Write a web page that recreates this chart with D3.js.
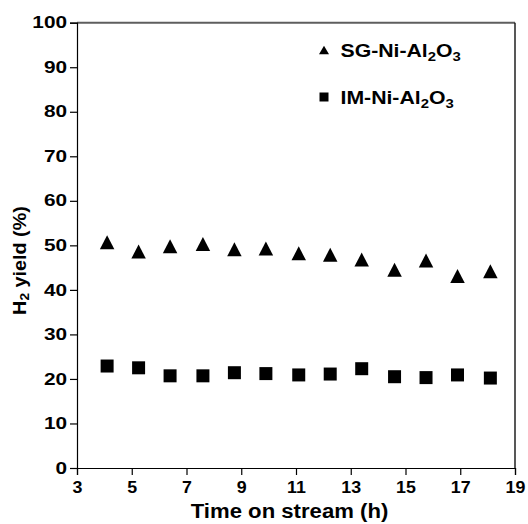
<!DOCTYPE html>
<html>
<head>
<meta charset="utf-8">
<script src="https://cdn.jsdelivr.net/npm/d3@7"></script>
<style>
  html, body { margin: 0; padding: 0; background: #fff; }
  svg { display: block; }
</style>
</head>
<body>
<div id="chart"></div>
<script>
// Data
const timeOnStream = [4.1, 5.25, 6.4, 7.6, 8.75, 9.9, 11.1, 12.25, 13.4, 14.6, 15.75, 16.9, 18.1];
const sgYield = [50.7, 48.6, 49.8, 50.3, 49.1, 49.3, 48.2, 47.9, 46.8, 44.5, 46.6, 43.1, 44.2];
const imYield = [22.9, 22.5, 20.7, 20.7, 21.4, 21.2, 20.9, 21.1, 22.3, 20.5, 20.3, 20.9, 20.2];
const xTicks = [3, 5, 7, 9, 11, 13, 15, 17, 19];
const yTicks = [0, 10, 20, 30, 40, 50, 60, 70, 80, 90, 100];

const width = 528, height = 524;
const margin = { left: 77, right: 13, top: 22.7, bottom: 56 };
const FONT = '"Liberation Sans", Arial, Helvetica, sans-serif';

const svg = d3.select('#chart').append('svg')
    .attr('width', width)
    .attr('height', height);

const x = d3.scaleLinear().domain([3, 19]).range([margin.left, width - margin.right]);
const y = d3.scaleLinear().domain([0, 100]).range([height - margin.bottom, margin.top]);

// triangle marker (bbox centred on the point)
function triangle(w, h) {
    const p = d3.path();
    p.moveTo(0, -h / 2);
    p.lineTo(w / 2, h / 2);
    p.lineTo(-w / 2, h / 2);
    p.closePath();
    return p.toString();
}
const square = s => d3.symbol(d3.symbolSquare, s * s)();

// frame: top and right borders
svg.append('line')
    .attr('x1', x(3)).attr('x2', x(19))
    .attr('y1', y(100)).attr('y2', y(100))
    .attr('stroke', '#5e5e5e').attr('stroke-width', 2);
svg.append('line')
    .attr('x1', x(19)).attr('x2', x(19))
    .attr('y1', y(100)).attr('y2', y(0))
    .attr('stroke', '#111').attr('stroke-width', 1.4);

// axes
const yLabelStretch = 1.3;
const yAxis = svg.append('g')
    .attr('transform', `translate(${x(3)},0)`)
    .call(d3.axisLeft(y).tickValues(yTicks).tickSize(7).tickPadding(3).tickFormat(d3.format('d')));
yAxis.select('.domain').attr('stroke', '#000').attr('stroke-width', 1.2);
yAxis.selectAll('.tick line').attr('stroke', '#000').attr('stroke-width', 1.2);
yAxis.selectAll('.tick text')
    .attr('x', -10 / yLabelStretch)
    .attr('transform', `scale(${yLabelStretch},1)`)
    .style('font-family', FONT)
    .style('font-size', '16px')
    .style('font-weight', 'bold')
    .attr('fill', '#000');

const xLabelStretch = 1.08;
const xAxis = svg.append('g')
    .attr('transform', `translate(0,${y(0)})`)
    .call(d3.axisBottom(x).tickValues(xTicks).tickSize(7).tickPadding(6).tickFormat(d3.format('d')));
xAxis.select('.domain').attr('stroke', '#000').attr('stroke-width', 1.2);
xAxis.selectAll('.tick line').attr('stroke', '#000').attr('stroke-width', 1.2);
xAxis.selectAll('.tick text')
    .attr('transform', `scale(${xLabelStretch},1)`)
    .style('font-family', FONT)
    .style('font-size', '16.5px')
    .style('font-weight', 'bold')
    .attr('fill', '#000');

// data markers
const sgData = timeOnStream.map((t, i) => ({ t, v: sgYield[i] }));
const imData = timeOnStream.map((t, i) => ({ t, v: imYield[i] }));

svg.append('g').selectAll('path')
    .data(sgData)
    .join('path')
    .attr('transform', d => `translate(${x(d.t)},${y(d.v)})`)
    .attr('d', triangle(14.5, 14))
    .attr('fill', '#000');

svg.append('g').selectAll('path')
    .data(imData)
    .join('path')
    .attr('transform', d => `translate(${x(d.t)},${y(d.v)})`)
    .attr('d', square(13))
    .attr('fill', '#000');

// legend (subscripts: 1 = drop down, -1 = back up to baseline)
function formula(sel, parts, size) {
    parts.forEach(([txt, shift]) => {
        sel.append('tspan')
            .attr('font-size', shift === 1 ? size * 0.7 : size)
            .attr('dy', shift === 1 ? 4 : shift === -1 ? -4 : 0)
            .text(txt);
    });
}
const legend = [
    { label: [['SG-Ni-Al', 0], ['2', 1], ['O', -1], ['3', 1]], marker: triangle(10, 8.5), ly: 50 },
    { label: [['IM-Ni-Al', 0], ['2', 1], ['O', -1], ['3', 1]], marker: square(9), ly: 97 }
];
const legendG = svg.append('g');
legend.forEach(item => {
    legendG.append('path')
        .attr('transform', `translate(324,${item.ly})`)
        .attr('d', item.marker)
        .attr('fill', '#000');
    const t = legendG.append('text')
        .attr('transform', `translate(340.5,${item.ly + 6.5}) scale(1.18,1)`)
        .style('font-family', FONT)
        .style('font-weight', 'bold')
        .attr('fill', '#000');
    formula(t, item.label, 18);
});

// axis titles
svg.append('text')
    .attr('transform', `translate(${(191 + 388) / 2},518) scale(1.08,1)`)
    .attr('text-anchor', 'middle')
    .style('font-family', FONT)
    .style('font-size', '20.5px')
    .style('font-weight', 'bold')
    .attr('fill', '#000')
    .text('Time on stream (h)');

const yTitle = svg.append('text')
    .attr('transform', 'translate(25.5,260.5) rotate(-90) scale(1.1,1)')
    .attr('text-anchor', 'middle')
    .style('font-family', FONT)
    .style('font-weight', 'bold')
    .attr('fill', '#000');
yTitle.append('tspan').attr('font-size', 18).text('H');
yTitle.append('tspan').attr('font-size', 12.5).attr('dy', 3).text('2');
yTitle.append('tspan').attr('font-size', 18).attr('dy', -3).text(' yield (%)');
</script>
</body>
</html>
